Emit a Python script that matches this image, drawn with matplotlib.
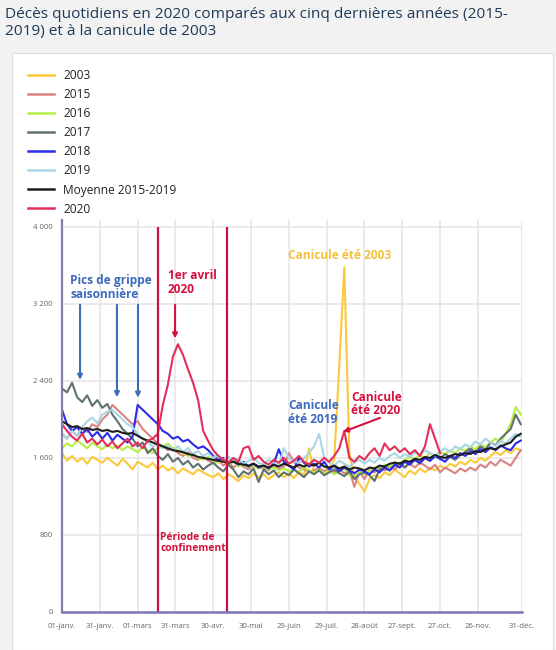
import numpy as np
import matplotlib
matplotlib.use("Agg")
import matplotlib.pyplot as plt
from matplotlib.patches import Rectangle

plt.rcParams['font.family'] = ['Open Sans', 'DejaVu Sans']

# ---------------- data (every 4 days) ----------------
days = list(range(0, 366, 4))  # 0 .. 364

y2003 = [1650, 1570, 1620, 1560, 1600, 1540, 1610, 1580, 1550, 1600,
         1560, 1520, 1590, 1540, 1480, 1560, 1530, 1500, 1550, 1480,
         1520, 1470, 1500, 1440, 1490, 1460, 1430, 1480, 1450, 1420,
         1400, 1440, 1380, 1430, 1400, 1360, 1420, 1390, 1440, 1400,
         1430, 1380, 1420, 1450, 1400, 1440, 1390, 1460, 1420, 1700,
         1450, 1480, 1460, 1500, 1580, 2560, 3580, 1650, 1400, 1330,
         1250, 1380, 1420, 1390, 1450, 1420, 1480, 1440, 1400, 1470,
         1430, 1490, 1450, 1500, 1470, 1520, 1490, 1540, 1510, 1560,
         1530, 1580, 1550, 1600, 1570, 1620, 1660, 1630, 1680, 1650,
         1700, 1680]

y2015 = [1850, 1800, 1880, 1830, 1900, 1870, 1950, 1920, 2000, 2050,
         2150, 2100, 2050, 2000, 1950, 1980, 1900, 1850, 1800, 1750,
         1720, 1680, 1700, 1650, 1620, 1660, 1600, 1580, 1620, 1570,
         1550, 1580, 1520, 1560, 1500, 1540, 1510, 1480, 1520, 1490,
         1500, 1470, 1530, 1480, 1510, 1650, 1560, 1500, 1480, 1460,
         1470, 1500, 1460, 1490, 1450, 1480, 1440, 1470, 1300, 1460,
         1380, 1480, 1450, 1500, 1470, 1510, 1480, 1530, 1500, 1540,
         1500, 1550, 1520, 1480, 1530, 1450, 1500, 1470, 1440, 1490,
         1460, 1500, 1470, 1530, 1500, 1560, 1520, 1580, 1550, 1520,
         1600, 1680]

y2016 = [1700, 1750, 1720, 1780, 1740, 1700, 1760, 1720, 1690, 1740,
         1700, 1730, 1680, 1720, 1690, 1660, 1710, 1680, 1650, 1700,
         1720, 1750, 1700, 1680, 1650, 1620, 1640, 1600, 1580, 1610,
         1570, 1550, 1580, 1530, 1560, 1510, 1540, 1500, 1520, 1490,
         1510, 1480, 1500, 1470, 1490, 1460, 1480, 1450, 1500, 1470,
         1450, 1480, 1440, 1470, 1430, 1460, 1490, 1420, 1400, 1450,
         1430, 1470, 1500, 1480, 1530, 1510, 1560, 1540, 1580, 1610,
         1590, 1630, 1600, 1650, 1620, 1660, 1640, 1680, 1650, 1700,
         1670, 1720, 1690, 1740, 1710, 1760, 1800, 1760, 1850, 1950,
         2130, 2050]

y2017 = [2320, 2280, 2380, 2230, 2180, 2250, 2140, 2200, 2120, 2160,
         2050, 1980, 1900, 1850, 1800, 1720, 1760, 1650, 1700, 1620,
         1580, 1640, 1560, 1600, 1530, 1570, 1500, 1540, 1480, 1520,
         1550, 1500, 1460, 1530, 1480, 1400, 1460, 1430, 1490, 1350,
         1480, 1430, 1470, 1400, 1450, 1420, 1480, 1440, 1400, 1460,
         1430, 1470, 1420, 1450, 1480, 1440, 1410, 1460, 1380, 1430,
         1450, 1420, 1360, 1480, 1500, 1470, 1520, 1550, 1500, 1560,
         1580, 1540, 1600, 1570, 1620, 1590, 1640, 1610, 1580, 1630,
         1660, 1700, 1650, 1720, 1680, 1760, 1730, 1800, 1850, 1900,
         2050, 1950]

y2018 = [2100, 1950, 1880, 1920, 1850, 1900, 1820, 1870, 1800, 1860,
         1780, 1840, 1800, 1760, 1820, 2150, 2100, 2050, 2000, 1950,
         1880, 1850, 1800, 1820, 1770, 1790, 1740, 1700, 1720, 1680,
         1620, 1580, 1600, 1550, 1570, 1530, 1560, 1510, 1540, 1500,
         1520, 1490, 1540, 1690, 1560, 1520, 1480, 1600, 1550, 1510,
         1540, 1500, 1560, 1480, 1520, 1460, 1500, 1470, 1440, 1480,
         1460, 1430, 1480, 1450, 1500, 1470, 1530, 1500, 1560, 1530,
         1580, 1550, 1600, 1570, 1620, 1590, 1560, 1620, 1600, 1650,
         1620, 1670, 1640, 1690, 1660, 1710, 1680, 1730, 1700, 1680,
         1750, 1780]

y2019 = [1850, 1800, 1880, 1830, 1920, 1980, 2020, 1960, 2050, 2080,
         2100, 2050, 2000, 1950, 1920, 1850, 1800, 1760, 1720, 1750,
         1700, 1730, 1680, 1720, 1660, 1700, 1640, 1670, 1620, 1650,
         1600, 1630, 1580, 1610, 1560, 1590, 1540, 1570, 1600, 1550,
         1530, 1580, 1550, 1520, 1700, 1600, 1560, 1550, 1600, 1650,
         1720, 1850, 1600, 1550, 1520, 1570, 1540, 1510, 1550, 1580,
         1540, 1580, 1550, 1600, 1570, 1620, 1650, 1600, 1640, 1610,
         1660, 1630, 1680, 1650, 1620, 1670, 1700, 1660, 1720, 1690,
         1740, 1710, 1770, 1740, 1800, 1760, 1720, 1780, 1750, 1800,
         1850, 1820]

y_mean = [1980, 1950, 1920, 1930, 1900, 1910, 1890, 1900, 1880, 1890,
          1870, 1880, 1860, 1850, 1860, 1830, 1800, 1780, 1760, 1740,
          1720, 1700, 1680, 1670, 1660, 1640, 1630, 1610, 1600, 1590,
          1580, 1570, 1560, 1550, 1560, 1540, 1530, 1520, 1540, 1510,
          1520, 1500, 1530, 1510, 1540, 1520, 1500, 1530, 1510, 1540,
          1520, 1550, 1510, 1500, 1520, 1490, 1510, 1480, 1500, 1490,
          1470, 1500, 1490, 1520, 1510, 1540, 1550, 1540, 1570, 1560,
          1590, 1580, 1610, 1600, 1630, 1610, 1600, 1620, 1640, 1630,
          1650, 1640, 1670, 1660, 1690, 1700, 1690, 1720, 1740, 1760,
          1820, 1850]

nan = float('nan')
y2020 = [1950, 1880, 1820, 1780, 1850, 1760, 1800, 1740, 1790, 1720,
         1770, 1700, 1750, 1800, 1720, 1760, 1700, 1780, 1800, 1850,
         2150, 2360, 2650, 2780, 2670, 2520, 2380, 2200, 1880, 1775,
         1680, 1620, 1580, 1550, 1600, 1560, 1700, 1720, 1580, 1620,
         1560, 1530, 1580, 1550, 1600, 1540, 1570, 1620, 1560, 1530,
         1580, 1550, 1600, 1560, 1620, 1700, 1880, 1600, 1560, 1620,
         1580, 1650, 1700, 1620, 1750, 1680, 1720, 1660, 1700, 1640,
         1680, 1620, 1720, 1950, 1800, 1650, nan, nan, nan, nan,
         nan, nan, nan, nan, nan, nan, nan, nan, nan, nan,
         nan, nan]

series_labels = ['2003', '2015', '2016', '2017', '2018', '2019',
                 'Moyenne 2015-2019', '2020']
series_values = [y2003, y2015, y2016, y2017, y2018, y2019, y_mean, y2020]
series_colors = ['#fcc93a', '#d98383', '#b7ee45', '#607270', '#2b2be8',
                 '#a9d6e3', '#1e1e1e', '#e22f5a']

xtick_days = [0, 30, 60, 90, 120, 150, 180, 210, 240, 270, 300, 330, 365]
xtick_labels = ['01-janv.', '31-janv.', '01-mars', '31-mars', '30-avr.',
                '30-mai', '29-juin', '29-juil.', '28-août', '27-sept.',
                '27-oct.', '26-nov.', '31-déc.']
ytick_vals = [0, 800, 1600, 2400, 3200, 4000]
ytick_labels = ['0', '800', '1 600', '2 400', '3 200', '4 000']

confinement_days = [76, 131]

# ---------------- figure ----------------
W, H = 556, 650
fig = plt.figure(figsize=(W / 100, H / 100), dpi=100, facecolor='#f2f2f2')

# white panel
panel = Rectangle((12 / W, 0), 541 / W, 1 - 53 / H, transform=fig.transFigure,
                  facecolor='white', edgecolor='#dedede', linewidth=0.8, zorder=-5)
fig.patches.append(panel)

# title
title_color = '#1f3a56'
fig.text(5 / W, 1 - 18 / H, "Décès quotidiens en 2020 comparés aux cinq dernières années (2015-",
         fontsize=11.1, color=title_color, ha='left', va='baseline')
fig.text(5 / W, 1 - 35 / H, "2019) et à la canicule de 2003",
         fontsize=11.1, color=title_color, ha='left', va='baseline')

ax = fig.add_axes([62 / W, (H - 612) / H, 460 / W, 392 / H])
ax.set_zorder(2)
ax.set_facecolor('white')
ax.set_xlim(0, 365)
ax.set_ylim(0, 4070)

handles = []
for lab, vals, col in zip(series_labels, series_values, series_colors):
    h, = ax.plot(days, vals, color=col, lw=1.5, label=lab, solid_joinstyle='round', zorder=3)
    handles.append(h)

ax.set_xticks(xtick_days)
ax.set_xticklabels(xtick_labels)
ax.set_yticks(ytick_vals)
ax.set_yticklabels(ytick_labels)
ax.tick_params(axis='both', length=0, labelsize=5.6, labelcolor='#666666')
ax.tick_params(axis='y', pad=6.5)
ax.tick_params(axis='x', pad=8)
ax.grid(True, color='#e6e6e6', lw=1.2, zorder=0)
ax.set_axisbelow(True)
for s in ['top', 'right']:
    ax.spines[s].set_visible(False)
ax.spines['left'].set_color('#8480ad')
ax.spines['bottom'].set_color('#7c77b8')
ax.spines['left'].set_linewidth(1.6)
ax.spines['bottom'].set_linewidth(1.8)
ax.spines['left'].set_zorder(5)
ax.spines['bottom'].set_zorder(5)

# confinement lines
crimson = '#d4123f'
ax.vlines(confinement_days, 0, 4000, colors='#c8103e', lw=1.6, zorder=4)

blue_t = '#3d6bbd'
yellow_t = '#f5c23e'
fs_ann = 8.6
ls_ann = 1.05

ax.text(6.5, 3370, 'Pics de grippe\nsaisonnière', color=blue_t, fontsize=fs_ann,
        fontweight='bold', ha='left', va='center', linespacing=ls_ann, zorder=6)
for xd, yt in [(14.3, 2410), (43.6, 2230), (60.3, 2225)]:
    ax.annotate('', xy=(xd, yt), xytext=(xd, 3190),
                arrowprops=dict(arrowstyle='-|>', color=blue_t, lw=1.5,
                                mutation_scale=7, shrinkA=0, shrinkB=0), zorder=6)

ax.text(84, 3420, '1er avril\n2020', color=crimson, fontsize=fs_ann,
        fontweight='bold', ha='left', va='center', linespacing=ls_ann, zorder=6)
ax.annotate('', xy=(89.7, 2840), xytext=(89.7, 3190),
            arrowprops=dict(arrowstyle='-|>', color=crimson, lw=1.5,
                            mutation_scale=7, shrinkA=0, shrinkB=0), zorder=6)

ax.text(220.6, 3700, 'Canicule été 2003', color=yellow_t, fontsize=fs_ann,
        fontweight='bold', ha='center', va='center', zorder=6)

ax.text(179.4, 2070, 'Canicule\nété 2019', color=blue_t, fontsize=fs_ann,
        fontweight='bold', ha='left', va='center', linespacing=ls_ann, zorder=6)

ax.text(229.4, 2160, 'Canicule\nété 2020', color=crimson, fontsize=fs_ann,
        fontweight='bold', ha='left', va='center', linespacing=ls_ann, zorder=6)
ax.annotate('', xy=(223, 1870), xytext=(252.4, 2016),
            arrowprops=dict(arrowstyle='-|>', color=crimson, lw=1.5,
                            mutation_scale=7, shrinkA=0, shrinkB=0), zorder=6)

ax.text(77.8, 717, 'Période de\nconfinement', color=crimson, fontsize=7.4,
        fontweight='bold', ha='left', va='center', linespacing=1.0, zorder=6)

leg = fig.legend(handles=handles, labels=series_labels, loc='upper left',
                 bbox_to_anchor=(28 / W, 1 - 69 / H), frameon=False,
                 fontsize=8.6, handlelength=2.2, handletextpad=0.75,
                 labelspacing=0.51, borderaxespad=0, borderpad=0)
for t in leg.get_texts():
    t.set_color('#222222')
for l in leg.get_lines():
    l.set_linewidth(1.8)

fig.savefig('out.png', dpi=100, facecolor=fig.get_facecolor())
